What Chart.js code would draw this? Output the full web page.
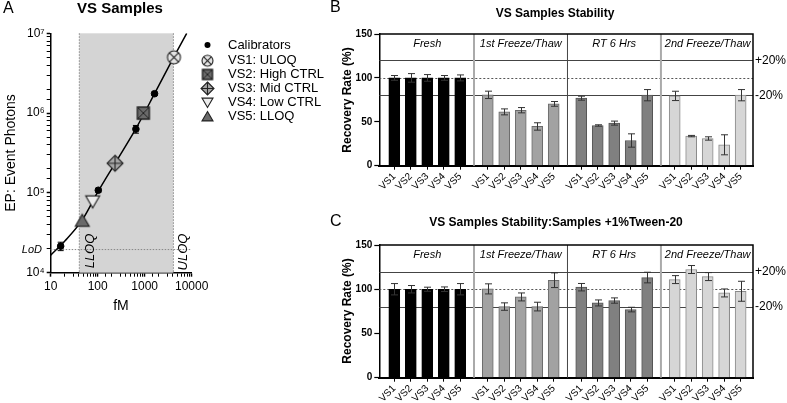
<!DOCTYPE html>
<html><head><meta charset="utf-8">
<script src="https://cdn.jsdelivr.net/npm/chart.js@4/dist/chart.umd.min.js"></script>
<style>
html,body{margin:0;padding:0;background:#fff;width:787px;height:403px;overflow:hidden;}
canvas{position:absolute;left:0;top:0;}
</style></head><body>
<canvas id="cA" width="787" height="403"></canvas>
<canvas id="cB" width="787" height="403"></canvas>
<canvas id="cC" width="787" height="403"></canvas>
<script>
const FONT = '"Liberation Sans", Arial, sans-serif';

// ---------- Panel A data ----------
const calX = [16.3, 103, 650, 1620];
const calY = [21500, 108000, 630000, 1750000];
const calErr = [2600, 6000, 70000, 90000];
const vsNames = ['VS1: ULOQ', 'VS2: High CTRL', 'VS3: Mid CTRL', 'VS4: Low CTRL', 'VS5: LLOQ'];
const vsX = [4200, 935, 234, 78, 47];
const vsY = [5000000, 1000000, 235000, 78000, 45000];
const fitX = [10, 20, 47, 100, 234, 650, 1620, 4200, 7830];
const fitY = [16600, 25000, 46000, 102000, 235000, 640000, 1750000, 5100000, 10000000];
const xTickLabelsA = ['10', '100', '1000', '10000'];
const yTickLabelsA = ['10⁴', '10⁵', '10⁶', '10⁷'];
const LLOQ = 40.6, ULOQ = 4080, LOD = 19500;

// ---------- Panels B / C data ----------
const samples = ['VS1', 'VS2', 'VS3', 'VS4', 'VS5'];
const groups = ['Fresh', '1st Freeze/Thaw', 'RT 6 Hrs', '2nd Freeze/Thaw'];
const yTicksBC = [0, 50, 100, 150];

const bFresh = [100, 100, 100, 100, 100];
const bFreshErr = [2.7, 4.9, 3.8, 2.7, 3.4];
const bFT1 = [80.7, 61.3, 63.2, 44.7, 70.4];
const bFT1Err = [4.2, 3.4, 3.0, 4.2, 2.7];
const bRT = [76.9, 45.8, 48.5, 28.7, 80.3];
const bRTErr = [2.3, 0.8, 2.3, 7.6, 6.4];
const bFT2 = [79.5, 33.7, 31.0, 23.8, 80.3];
const bFT2Err = [5.3, 0.8, 1.9, 11.4, 6.4];

const cFresh = [100, 100, 100, 100, 100];
const cFreshErr = [6.4, 4.2, 2.3, 2.6, 6.4];
const cFT1 = [100.4, 80.4, 91.3, 80.4, 110.2];
const cFT1Err = [5.7, 4.2, 4.5, 4.9, 8.3];
const cRT = [102.3, 84.5, 87.2, 77.0, 113.2];
const cRTErr = [4.2, 3.4, 3.0, 2.6, 6.0];
const cFT2 = [110.9, 122.3, 114.3, 95.8, 97.7];
const cFT2Err = [4.5, 4.5, 4.5, 4.5, 11.3];

const groupFill = ['#000000', '#a2a2a2', '#808080', '#d6d6d6'];
const groupEdge = ['#000000', '#6a6a6a', '#555555', '#8a8a8a'];

// ---------- helpers ----------
function txt(ctx, t) {
  ctx.save();
  ctx.font = t.font; ctx.fillStyle = t.color || '#000';
  ctx.textAlign = t.align || 'center'; ctx.textBaseline = 'middle';
  ctx.translate(t.x, t.y); if (t.rot) ctx.rotate(t.rot);
  ctx.fillText(t.text, 0, 0); ctx.restore();
}
const isPow10 = v => { const l = Math.log10(v); return Math.abs(l - Math.round(l)) < 1e-6; };

function marker(kind, s) {
  const pad = 2, W = Math.ceil(s + pad * 2);
  const c = document.createElement('canvas'); c.width = W; c.height = W;
  const g = c.getContext('2d'); const m = W / 2, h = s / 2;
  g.lineWidth = 1.1; g.strokeStyle = '#222';
  g.beginPath();
  if (kind === 'circleX') {
    g.fillStyle = '#e4e4e4'; g.arc(m, m, h, 0, 2 * Math.PI); g.fill(); g.stroke();
    const d = h * 0.707; g.beginPath();
    g.moveTo(m - d, m - d); g.lineTo(m + d, m + d); g.moveTo(m + d, m - d); g.lineTo(m - d, m + d); g.stroke();
  } else if (kind === 'squareX') {
    g.fillStyle = '#6a6a6a'; g.lineWidth = 1.4; g.rect(m - h, m - h, s, s); g.fill(); g.stroke();
    g.beginPath(); g.lineWidth = 1;
    g.moveTo(m - h, m - h); g.lineTo(m + h, m + h); g.moveTo(m + h, m - h); g.lineTo(m - h, m + h); g.stroke();
  } else if (kind === 'diamondPlus') {
    g.fillStyle = '#a6a6a6';
    g.moveTo(m, m - h); g.lineTo(m + h, m); g.lineTo(m, m + h); g.lineTo(m - h, m); g.closePath(); g.fill(); g.stroke();
    g.beginPath(); g.moveTo(m, m - h); g.lineTo(m, m + h); g.moveTo(m - h, m); g.lineTo(m + h, m); g.stroke();
  } else if (kind === 'triDown') {
    g.fillStyle = '#ececec';
    g.moveTo(m - h, m - h * 0.8); g.lineTo(m + h, m - h * 0.8); g.lineTo(m, m + h * 0.9); g.closePath(); g.fill(); g.stroke();
  } else if (kind === 'triUp') {
    g.fillStyle = '#6a6a6a';
    g.moveTo(m, m - h * 0.9); g.lineTo(m + h, m + h * 0.8); g.lineTo(m - h, m + h * 0.8); g.closePath(); g.fill(); g.stroke();
  }
  return c;
}
const markerKinds = ['circleX', 'squareX', 'diamondPlus', 'triDown', 'triUp'];
const plotSizes = [13, 12, 16, 14, 14];
const legendSizes = [11, 10, 13, 11, 11];
const plotMarkers = markerKinds.map((k, i) => marker(k, plotSizes[i]));
const legendMarkers = markerKinds.map((k, i) => marker(k, legendSizes[i]));

// ---------- Chart A ----------
const aDecor = {
  id: 'aDecor',
  beforeDatasetsDraw(chart) {
    const { ctx, chartArea: ca, scales: { x, y } } = chart;
    const x1 = x.getPixelForValue(LLOQ), x2 = x.getPixelForValue(ULOQ);
    ctx.save();
    ctx.fillStyle = '#d4d4d4'; ctx.fillRect(x1, ca.top, x2 - x1, ca.bottom - ca.top);
    ctx.strokeStyle = '#888'; ctx.lineWidth = 1; ctx.setLineDash([1.5, 1.5]);
    [x1, x2].forEach(px => { ctx.beginPath(); ctx.moveTo(px, ca.top); ctx.lineTo(px, ca.bottom); ctx.stroke(); });
    const ly = y.getPixelForValue(LOD);
    ctx.beginPath(); ctx.moveTo(ca.left, ly); ctx.lineTo(ca.right, ly); ctx.stroke();
    ctx.restore();
  },
  afterDatasetsDraw(chart) {
    const { ctx, scales: { x, y } } = chart;
    ctx.save(); ctx.strokeStyle = '#000'; ctx.lineWidth = 1;
    calX.forEach((cx, i) => {
      const px = x.getPixelForValue(cx);
      const t = y.getPixelForValue(calY[i] + calErr[i]), b = y.getPixelForValue(calY[i] - calErr[i]);
      ctx.beginPath(); ctx.moveTo(px, t); ctx.lineTo(px, b);
      ctx.moveTo(px - 3, t); ctx.lineTo(px + 3, t); ctx.moveTo(px - 3, b); ctx.lineTo(px + 3, b); ctx.stroke();
    });
    ctx.restore();
  },
  afterDraw(chart) {
    const ctx = chart.ctx;
    const texts = [
      { text: 'A', x: 3, y: 9, font: '16px ' + FONT, align: 'left' },
      { text: 'VS Samples', x: 120, y: 9, font: 'bold 15px ' + FONT },
      { text: 'EP: Event Photons', x: 11, y: 153, rot: -Math.PI / 2, font: '14px ' + FONT },
      { text: 'fM', x: 121, y: 306, font: '14px ' + FONT },
      { text: 'LoD', x: 42, y: 250, font: 'italic 11px ' + FONT, align: 'right' },
      { text: 'LLOQ', x: 90, y: 251, rot: -Math.PI / 2, font: 'italic 13px ' + FONT },
      { text: 'ULOQ', x: 183, y: 252, rot: -Math.PI / 2, font: 'italic 13px ' + FONT }
    ];
    texts.forEach(t => txt(ctx, t));
    // legend
    const rows = [45, 60.7, 74.5, 88.5, 102.5, 116.5];
    const mx = 207.5, tx = 228;
    ctx.save(); ctx.fillStyle = '#000';
    ctx.beginPath(); ctx.arc(mx, rows[0], 3, 0, 2 * Math.PI); ctx.fill(); ctx.restore();
    txt(ctx, { text: 'Calibrators', x: tx, y: rows[0], font: '13px ' + FONT, align: 'left' });
    vsNames.forEach((n, i) => {
      const im = legendMarkers[i];
      ctx.drawImage(im, mx - im.width / 2, rows[i + 1] - im.height / 2);
      txt(ctx, { text: n, x: tx, y: rows[i + 1], font: '13px ' + FONT, align: 'left' });
    });
  }
};

new Chart(document.getElementById('cA'), {
  type: 'scatter',
  data: {
    datasets: [
      { type: 'line', data: fitX.map((x, i) => ({ x, y: fitY[i] })), borderColor: '#000', borderWidth: 1.5,
        pointRadius: 0, cubicInterpolationMode: 'monotone', fill: false, order: 3 },
      { data: calX.map((x, i) => ({ x, y: calY[i] })), pointStyle: 'circle', radius: 3.3,
        backgroundColor: '#000', borderColor: '#000', order: 2 },
      ...vsNames.map((n, i) => ({ label: n, data: [{ x: vsX[i], y: vsY[i] }], pointStyle: plotMarkers[i], radius: 6, order: 1 }))
    ]
  },
  options: {
    responsive: false, animation: false, events: [],
    layout: { padding: { top: 33.3, right: 787 - 191.7, left: 0, bottom: 0 } },
    plugins: { legend: { display: false }, tooltip: { enabled: false } },
    scales: {
      x: {
        type: 'logarithmic', min: 10, max: 10000,
        afterFit: s => { s.height = 403 - 272.7; },
        grid: { drawOnChartArea: false, tickLength: 4, tickColor: '#000', tickWidth: c => (c.tick && isPow10(c.tick.value)) ? 1.5 : 1 },
        border: { display: true, color: '#000', width: 1.5 },
        ticks: { autoSkip: false, maxRotation: 0, padding: 3, color: '#000', font: { family: FONT, size: 12 },
          callback: v => isPow10(v) ? xTickLabelsA[Math.round(Math.log10(v)) - 1] : '' }
      },
      y: {
        type: 'logarithmic', min: 10000, max: 10000000,
        afterFit: s => { s.width = 50.7; },
        grid: { drawOnChartArea: false, tickLength: 4, tickColor: '#000', tickWidth: c => (c.tick && isPow10(c.tick.value)) ? 1.5 : 1 },
        border: { display: true, color: '#000', width: 1.5 },
        ticks: { autoSkip: false, padding: 2, color: '#000', font: { family: FONT, size: 12 },
          callback: v => isPow10(v) ? yTickLabelsA[Math.round(Math.log10(v)) - 4] : '' }
      }
    }
  },
  plugins: [aDecor]
});

// ---------- Bar panels ----------
const GROUP_STRIDE = 5.67;
const xPos = [];
groups.forEach((g, gi) => samples.forEach((s, si) => xPos.push(gi * GROUP_STRIDE + si)));

function makeBar(id, vals, errs, top, bottom, extra) {
  const values = [].concat(...vals), errors = [].concat(...errs);
  const colors = [], edges = [];
  vals.forEach((arr, gi) => arr.forEach(() => { colors.push(groupFill[gi]); edges.push(groupEdge[gi]); }));
  const decor = {
    id: 'decor' + id,
    beforeDatasetsDraw(chart) {
      const { ctx, chartArea: ca, scales: { x, y } } = chart;
      ctx.save();
      ctx.strokeStyle = '#444'; ctx.lineWidth = 1;
      [120, 80].forEach(v => { const py = Math.round(y.getPixelForValue(v)) + 0.5; ctx.beginPath(); ctx.moveTo(ca.left, py); ctx.lineTo(ca.right, py); ctx.stroke(); });
      ctx.setLineDash([2, 2]); ctx.strokeStyle = '#555';
      const p100 = Math.round(y.getPixelForValue(100)) + 0.5;
      ctx.beginPath(); ctx.moveTo(ca.left, p100); ctx.lineTo(ca.right, p100); ctx.stroke();
      ctx.setLineDash([]);
      for (let g = 0; g < groups.length - 1; g++) {
        const px = x.getPixelForValue(g * GROUP_STRIDE + (4 + GROUP_STRIDE) / 2);
        ctx.strokeStyle = g === 1 ? '#444' : '#aaaaaa'; ctx.lineWidth = g === 1 ? 1 : 2;
        ctx.beginPath(); ctx.moveTo(px, ca.top); ctx.lineTo(px, ca.bottom); ctx.stroke();
      }
      ctx.restore();
    },
    afterDatasetsDraw(chart) {
      const { ctx, scales: { y } } = chart;
      const meta = chart.getDatasetMeta(0);
      ctx.save(); ctx.strokeStyle = '#333'; ctx.lineWidth = 1;
      meta.data.forEach((el, i) => {
        const px = Math.round(el.x) + 0.5;
        const t = y.getPixelForValue(values[i] + errors[i]), b = y.getPixelForValue(values[i] - errors[i]);
        ctx.beginPath(); ctx.moveTo(px, t); ctx.lineTo(px, b);
        ctx.moveTo(px - 3.5, t); ctx.lineTo(px + 3.5, t); ctx.moveTo(px - 3.5, b); ctx.lineTo(px + 3.5, b); ctx.stroke();
      });
      ctx.restore();
    },
    afterDraw(chart) {
      const { ctx, chartArea: ca, scales: { x, y } } = chart;
      ctx.save(); ctx.strokeStyle = '#000'; ctx.lineWidth = 1.5;
      ctx.beginPath(); ctx.moveTo(ca.left, ca.top); ctx.lineTo(ca.right, ca.top); ctx.lineTo(ca.right, ca.bottom); ctx.stroke();
      ctx.restore();
      groups.forEach((g, gi) => txt(ctx, { text: g, x: x.getPixelForValue(gi * GROUP_STRIDE + 2), y: y.getPixelForValue(139), font: 'italic 11px ' + FONT }));
      txt(ctx, { text: '+20%', x: ca.right + 2, y: y.getPixelForValue(120), font: '12px ' + FONT, align: 'left' });
      txt(ctx, { text: '-20%', x: ca.right + 2, y: y.getPixelForValue(80), font: '12px ' + FONT, align: 'left' });
      extra.forEach(t => txt(ctx, t));
    }
  };
  new Chart(document.getElementById(id), {
    type: 'bar',
    data: { datasets: [{ data: xPos.map((x, i) => ({ x, y: values[i] })), backgroundColor: colors, borderColor: edges,
      borderWidth: 1, barThickness: 11, borderSkipped: 'bottom' }] },
    options: {
      responsive: false, animation: false, events: [],
      layout: { padding: { top: top, right: 34, left: 0, bottom: 0 } },
      plugins: { legend: { display: false }, tooltip: { enabled: false } },
      scales: {
        x: {
          type: 'linear', min: -0.91, max: 21.76, offset: false,
          afterFit: s => { s.height = 403 - bottom; },
          afterBuildTicks: s => { s.ticks = xPos.map(v => ({ value: v })); },
          grid: { drawOnChartArea: false, offset: false, tickLength: 4, tickColor: '#000' },
          border: { display: true, color: '#000', width: 2 },
          ticks: { autoSkip: false, minRotation: 45, maxRotation: 45, padding: 1, color: '#000',
            font: { family: FONT, size: 10 }, callback: (v, i) => samples[i % samples.length] }
        },
        y: {
          min: 0, max: 150,
          afterFit: s => { s.width = 379.3; },
          afterBuildTicks: s => { s.ticks = yTicksBC.map(v => ({ value: v })); },
          grid: { drawOnChartArea: false, tickLength: 5, tickColor: '#000', tickWidth: 1.2 },
          border: { display: true, color: '#000', width: 1.5 },
          ticks: { padding: 2, color: '#000', font: { family: FONT, size: 10, weight: 'bold' } }
        }
      }
    },
    plugins: [decor]
  });
}

makeBar('cB', [bFresh, bFT1, bRT, bFT2], [bFreshErr, bFT1Err, bRTErr, bFT2Err], 34, 165.7, [
  { text: 'B', x: 330, y: 8, font: '16px ' + FONT, align: 'left' },
  { text: 'VS Samples Stability', x: 555, y: 14, font: 'bold 12px ' + FONT },
  { text: 'Recovery Rate (%)', x: 348, y: 100, rot: -Math.PI / 2, font: 'bold 12px ' + FONT }
]);
makeBar('cC', [cFresh, cFT1, cRT, cFT2], [cFreshErr, cFT1Err, cRTErr, cFT2Err], 245, 377.7, [
  { text: 'C', x: 330, y: 222, font: '16px ' + FONT, align: 'left' },
  { text: 'VS Samples Stability:Samples +1%Tween-20', x: 556, y: 223, font: 'bold 12px ' + FONT },
  { text: 'Recovery Rate (%)', x: 348, y: 311, rot: -Math.PI / 2, font: 'bold 12px ' + FONT }
]);
</script>
</body></html>
